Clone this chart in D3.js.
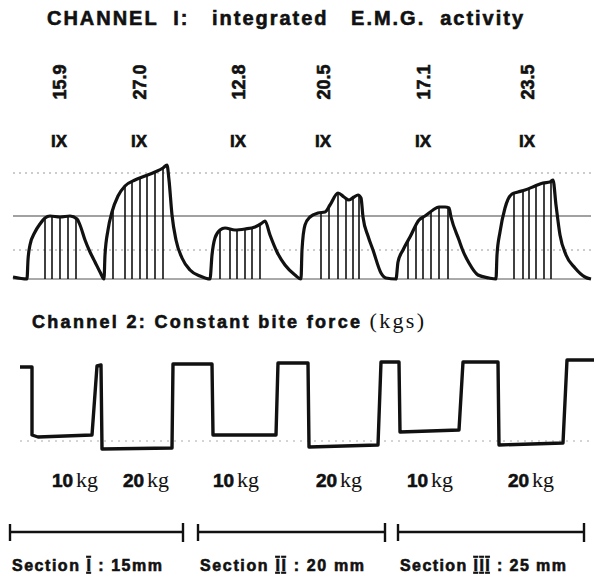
<!DOCTYPE html>
<html>
<head>
<meta charset="utf-8">
<script src="https://cdn.jsdelivr.net/npm/d3@7"></script>
<style>
  html, body { margin: 0; padding: 0; background: #fff; }
  svg { display: block; }
  text { white-space: pre; }
  .sans { font-family: "Liberation Sans", Arial, sans-serif; font-weight: bold; }
  .serif { font-family: "Liberation Serif", "DejaVu Serif", serif; font-weight: normal; }
  .heavy { stroke: #111; stroke-width: 0.6px; }
</style>
</head>
<body>
<div id="chart"></div>
<script>
// ---- data ----
// time axis is in seconds (estimated), EMG in arbitrary integrator units,
// force trace in pen deflection units (down = bite)
const emgTitle = "CHANNEL  I:   integrated   E.M.G.  activity";
const forceTitle = "Channel 2: Constant bite force ";
const forceUnit = "(kgs)";

const emgValues = ["15.9", "27.0", "12.8", "20.5", "17.1", "23.5"];
const emgLabelTimes = [5.0, 13.0, 22.9, 31.4, 41.4, 51.8];
const gainMarks = ["IX", "IX", "IX", "IX", "IX", "IX"];

const emgTrace = [
  [0.3, 0.2], [1.7, 0], [1.8, 1.9], [2.0, 3.4], [2.5, 4.7], [3.0, 5.5], [3.5, 6.1], [4.0, 6.3],
  [5.0, 6.2], [6.0, 6.3], [6.7, 6.0], [7.0, 5.4], [7.5, 3.9], [8.0, 2.7], [8.5, 1.7], [9.0, 0.7], [9.4, 0],
  [9.5, 2.4], [9.8, 4.9], [10.2, 6.7], [10.8, 8.3], [11.5, 9.3], [12.5, 9.9], [13.5, 10.3], [14.5, 10.7],
  [15.3, 11.1], [15.7, 11.4], [15.9, 9.9], [16.2, 6.4], [16.6, 3.9], [17.2, 2.1], [18.0, 0.9], [19.0, 0.3], [20.0, 0],
  [20.2, 2.4], [20.5, 4.1], [21.0, 4.9], [21.5, 5.1], [22.5, 4.9], [23.5, 5.0], [24.5, 5.2], [25.2, 5.6],
  [25.5, 5.8], [26.0, 4.4], [26.7, 2.7], [27.5, 1.4], [28.5, 0.4], [29.1, 0],
  [29.2, 2.9], [29.5, 5.4], [30.0, 6.2], [30.8, 6.6], [31.5, 6.7], [32.0, 7.4], [32.8, 8.6], [33.4, 8.2],
  [33.9, 7.9], [34.4, 8.2], [34.8, 8.4], [35.1, 8.1], [35.3, 6.2], [35.8, 4.3], [36.3, 2.9], [37.1, 0.6], [37.6, 0.1], [38.6, 0],
  [38.8, 1.7], [39.3, 2.9], [40.0, 4.2], [40.9, 5.9], [41.5, 6.3], [42.3, 6.9], [42.9, 7.2], [43.5, 7.2],
  [43.9, 7.1], [44.1, 6.2], [44.9, 3.9], [45.3, 2.8], [45.9, 1.6], [46.8, 0.4], [47.9, 0.1], [48.6, 0],
  [48.7, 2.4], [49.0, 4.7], [49.5, 7.1], [50.2, 8.5], [50.8, 8.7], [51.5, 8.9], [52.5, 9.3], [53.3, 9.6],
  [54.0, 9.7], [54.3, 9.9], [54.6, 7.4], [55.0, 4.4], [55.6, 2.4], [56.5, 1.1], [57.5, 0.2], [58.1, 0]
];

// integrator reset marks inside each burst
const resetTimes = [
  3.5, 4.2, 5.0, 5.8, 6.6,
  10.3, 11.5, 12.2, 13.0, 13.7, 14.5, 15.3,
  21.0, 22.0, 22.7, 23.5, 24.2, 25.0,
  31.1, 31.9, 32.8, 33.6, 34.3, 34.9,
  39.8, 40.6, 41.3, 42.1, 42.9, 43.8,
  50.4, 51.3, 51.9, 52.6, 53.4, 54.1
];

const emgRefLevel = 6.3;
const emgDottedLevels = [2.9, 10.6];

const forceTrace = [
  [1.0, 1.1], [2.2, 1.1], [2.2, 7.9], [2.8, 8.1], [8.2, 7.9], [8.7, 1.0], [9.1, 0.9],
  [9.2, 9.3], [16.2, 9.2], [16.3, 0.8], [20.2, 0.8], [20.3, 7.9], [26.6, 7.9], [26.8, 0.7],
  [29.8, 0.7], [29.9, 9.1], [36.8, 8.9], [37.1, 0.6], [38.9, 0.6], [39.0, 7.6], [44.9, 7.4],
  [45.3, 0.6], [48.8, 0.6], [48.9, 8.9], [55.3, 8.7], [55.7, 0.4], [58.4, 0.4]
];

const loadKg = ["10", "20", "10", "20", "10", "20"];
const loadLabelTimes = [6.5, 13.6, 22.6, 32.9, 42.0, 52.1];

const sectionNumerals = ["I", "II", "III"];
const sectionSizes = ["15mm", "20 mm", "25 mm"];
const sectionStart = [0, 18.8, 38.8];
const sectionEnd = [17.3, 37.5, 57.4];

// ---- layout ----
const width = 596, height = 579;
const ink = "#111";
const sectionLabelWidth = [150, 164, 166];

const svg = d3.select("#chart").append("svg")
  .attr("width", width)
  .attr("height", height);

const x = d3.scaleLinear().domain([0, 58.5]).range([10, 595]);
const yEmg = d3.scaleLinear().domain([0, 13]).range([279, 149]);
const yForce = d3.scaleLinear().domain([0, 10]).range([356, 456]);

// ---- titles ----
svg.append("text")
  .attr("class", "sans heavy")
  .attr("x", 47).attr("y", 25)
  .attr("font-size", 20)
  .attr("textLength", 476)
  .attr("lengthAdjust", "spacing")
  .attr("fill", ink)
  .text(emgTitle);

const ft = svg.append("text")
  .attr("x", 32).attr("y", 328)
  .attr("textLength", 392)
  .attr("lengthAdjust", "spacing")
  .attr("fill", ink);
ft.append("tspan").attr("class", "sans heavy").attr("font-size", 18).text(forceTitle);
ft.append("tspan").attr("class", "serif").attr("font-size", 22).text(forceUnit);

// ---- EMG panel ----
svg.selectAll(".emg-value")
  .data(emgValues)
  .enter().append("text")
  .attr("class", "sans heavy emg-value")
  .attr("transform", (d, i) => `translate(${x(emgLabelTimes[i])},82) rotate(-90)`)
  .attr("text-anchor", "middle")
  .attr("dominant-baseline", "central")
  .attr("font-size", 18)
  .attr("fill", ink)
  .text(d => d);

svg.selectAll(".gain")
  .data(gainMarks)
  .enter().append("text")
  .attr("class", "sans heavy gain")
  .attr("x", (d, i) => x(emgLabelTimes[i]) - 1)
  .attr("y", 147)
  .attr("text-anchor", "middle")
  .attr("font-size", 17)
  .attr("fill", ink)
  .text(d => d);

// grid of the recording paper
svg.selectAll(".dotted")
  .data(emgDottedLevels)
  .enter().append("line")
  .attr("class", "dotted")
  .attr("x1", x(0.3)).attr("x2", x(58.1))
  .attr("y1", d => yEmg(d)).attr("y2", d => yEmg(d))
  .attr("stroke", "#999")
  .attr("stroke-width", 1)
  .attr("stroke-dasharray", "2,4");

svg.append("line")
  .attr("x1", x(0.3)).attr("x2", x(58.1))
  .attr("y1", yEmg(emgRefLevel)).attr("y2", yEmg(emgRefLevel))
  .attr("stroke", "#444")
  .attr("stroke-width", 1.2);

svg.append("line")
  .attr("x1", x(0.3)).attr("x2", x(58.1))
  .attr("y1", yEmg(0)).attr("y2", yEmg(0))
  .attr("stroke", "#555")
  .attr("stroke-width", 1);

// value of the envelope at a given time
const bisect = d3.bisector(d => d[0]).left;
function envelopeAt(t) {
  const i = Math.max(1, Math.min(emgTrace.length - 1, bisect(emgTrace, t)));
  const a = emgTrace[i - 1], b = emgTrace[i];
  const k = (t - a[0]) / (b[0] - a[0] || 1);
  return a[1] + (b[1] - a[1]) * k;
}

svg.selectAll(".reset")
  .data(resetTimes)
  .enter().append("line")
  .attr("class", "reset")
  .attr("x1", d => x(d)).attr("x2", d => x(d))
  .attr("y1", yEmg(0)).attr("y2", d => yEmg(envelopeAt(d)))
  .attr("stroke", ink)
  .attr("stroke-width", 1.6);

const emgLine = d3.line()
  .x(d => x(d[0]))
  .y(d => yEmg(d[1]))
  .curve(d3.curveMonotoneX);

svg.append("path")
  .datum(emgTrace)
  .attr("d", emgLine)
  .attr("fill", "none")
  .attr("stroke", ink)
  .attr("stroke-width", 3.2)
  .attr("stroke-linejoin", "round");

// ---- force panel ----
svg.append("line")
  .attr("x1", x(1.0)).attr("x2", x(58.4))
  .attr("y1", yForce(8.5)).attr("y2", yForce(8.5))
  .attr("stroke", "#aaa")
  .attr("stroke-width", 1)
  .attr("stroke-dasharray", "2,5");

const forceLine = d3.line()
  .x(d => x(d[0]))
  .y(d => yForce(d[1]));

svg.append("path")
  .datum(forceTrace)
  .attr("d", forceLine)
  .attr("fill", "none")
  .attr("stroke", ink)
  .attr("stroke-width", 3.4)
  .attr("stroke-linejoin", "round");

const loads = svg.selectAll(".load")
  .data(loadKg)
  .enter().append("text")
  .attr("class", "load")
  .attr("x", (d, i) => x(loadLabelTimes[i]))
  .attr("y", 487)
  .attr("text-anchor", "middle")
  .attr("fill", ink);
loads.append("tspan").attr("class", "sans heavy").attr("font-size", 19).text(d => d);
loads.append("tspan").attr("class", "serif").attr("font-size", 22).attr("dx", 3).text("kg");

// ---- sections ----
const sec = svg.selectAll(".section")
  .data(sectionNumerals)
  .enter().append("g")
  .attr("class", "section");

sec.append("line")
  .attr("x1", (d, i) => x(sectionStart[i])).attr("x2", (d, i) => x(sectionEnd[i]))
  .attr("y1", 532).attr("y2", 532)
  .attr("stroke", ink).attr("stroke-width", 2.4);
sec.append("line")
  .attr("x1", (d, i) => x(sectionStart[i])).attr("x2", (d, i) => x(sectionStart[i]))
  .attr("y1", 524).attr("y2", 541)
  .attr("stroke", ink).attr("stroke-width", 2.4);
sec.append("line")
  .attr("x1", (d, i) => x(sectionEnd[i])).attr("x2", (d, i) => x(sectionEnd[i]))
  .attr("y1", 523).attr("y2", 542)
  .attr("stroke", ink).attr("stroke-width", 2.4);

const secText = sec.append("text")
  .attr("class", "sans heavy")
  .attr("x", (d, i) => x(sectionStart[i]) + 2)
  .attr("y", 571)
  .attr("font-size", 16)
  .attr("textLength", (d, i) => sectionLabelWidth[i])
  .attr("lengthAdjust", "spacing")
  .attr("fill", ink);
secText.append("tspan").text("Section ");
secText.append("tspan")
  .style("text-decoration", "overline underline")
  .text(d => d);
secText.append("tspan").text((d, i) => " : " + sectionSizes[i]);
</script>
</body>
</html>
